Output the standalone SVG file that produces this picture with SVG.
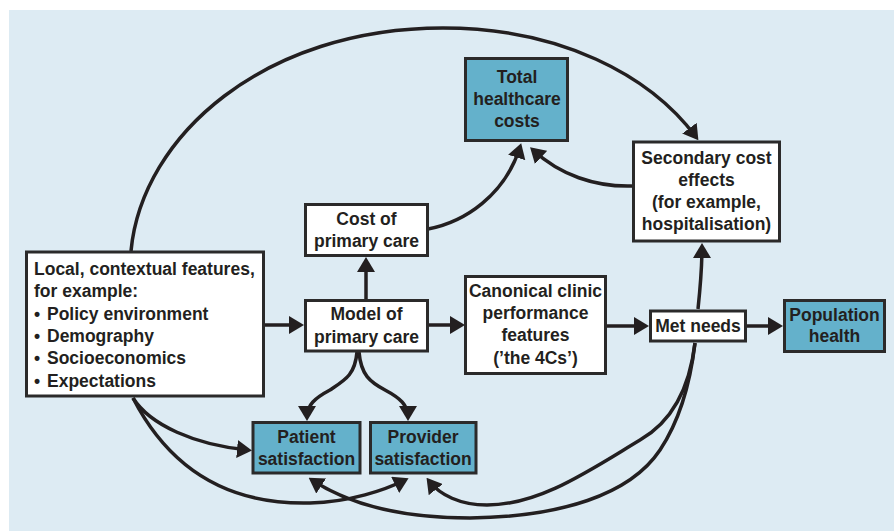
<svg xmlns="http://www.w3.org/2000/svg" width="894" height="531" viewBox="0 0 894 531">
<style>
.box{fill:#ffffff;stroke:#2b2a2a;stroke-width:3}
.hl{fill:#64b1cb;stroke:#2b2a2a;stroke-width:3}
text{font-family:"Liberation Sans",Arial,sans-serif;font-weight:bold;font-size:17.5px;fill:#231f20}
.c{text-anchor:middle}
.con path{fill:none;stroke:#231f20;stroke-width:3.5}
</style>
<defs>
<marker id="ah" markerUnits="userSpaceOnUse" markerWidth="15" markerHeight="18" viewBox="0 0 15 18" refX="11" refY="9" orient="auto">
<path d="M0,0 L15,9 L0,18 z" fill="#231f20"/>
</marker>
</defs>
<rect x="0" y="0" width="894" height="531" fill="#ffffff"/>
<rect x="9" y="10" width="885" height="521" fill="#ddebf3"/>

<g id="connectors" class="con">
<path d="M131,251 C142,135 265,28 443,28 C560,28 650,75 696,137" marker-end="url(#ah)"/>
<path d="M265,325 L300,325" marker-end="url(#ah)"/>
<path d="M428,325 L461,325" marker-end="url(#ah)"/>
<path d="M606,326 L645,326" marker-end="url(#ah)"/>
<path d="M747,326 L779,326" marker-end="url(#ah)"/>
<path d="M366,299 L366,261" marker-end="url(#ah)"/>
<path d="M428,229 C465,222 505,195 520,147" marker-end="url(#ah)"/>
<path d="M632,186 C595,187 560,175 533,150" marker-end="url(#ah)"/>
<path d="M698,309 C700,290 702,270 702,247" marker-end="url(#ah)"/>
<path d="M695,343 C690,385 675,420 640,440 C590,470 540,505 487,505 C460,505 440,495 429,481" marker-end="url(#ah)"/>
<path d="M695,343 C690,385 680,420 660,450 C630,495 560,517 470,518 C400,518 350,505 312,480" marker-end="url(#ah)"/>
<path d="M133,398 C150,425 195,445 248,450" marker-end="url(#ah)"/>
<path d="M133,398 C170,470 230,505 310,503 C350,502 385,490 405,480" marker-end="url(#ah)"/>
<path d="M357,352 C355,375 345,380 330,390 C315,398 307,405 307,417" marker-end="url(#ah)"/>
<path d="M359,352 C361,375 370,382 385,390 C400,398 408,405 408,417" marker-end="url(#ah)"/>
</g>

<g id="total">
<rect class="hl" x="465.5" y="58.5" width="102" height="82"/>
<text class="c" x="517" y="82.7">Total</text>
<text class="c" x="517" y="105">healthcare</text>
<text class="c" x="517" y="127.3">costs</text>
</g>
<g id="secondary">
<rect class="box" x="633.5" y="142" width="146" height="99"/>
<text class="c" x="706.5" y="163.5">Secondary cost</text>
<text class="c" x="706.5" y="185.8">effects</text>
<text class="c" x="706.5" y="208.1">(for example,</text>
<text class="c" x="706.5" y="230.4">hospitalisation)</text>
</g>
<g id="cost">
<rect class="box" x="305.5" y="204.5" width="122" height="51"/>
<text class="c" x="366.5" y="224.5">Cost of</text>
<text class="c" x="366.5" y="246.5">primary care</text>
</g>
<g id="local">
<rect class="box" x="26.5" y="252" width="237" height="144"/>
<text x="34" y="275">Local, contextual features,</text>
<text x="34" y="297.3">for example:</text>
<text y="319.6"><tspan x="34">•</tspan><tspan x="47">Policy environment</tspan></text>
<text y="341.9"><tspan x="34">•</tspan><tspan x="47">Demography</tspan></text>
<text y="364.2"><tspan x="34">•</tspan><tspan x="47">Socioeconomics</tspan></text>
<text y="386.5"><tspan x="34">•</tspan><tspan x="47">Expectations</tspan></text>
</g>
<g id="model">
<rect class="box" x="305.5" y="300.5" width="122" height="50.5"/>
<text class="c" x="366.5" y="320.3">Model of</text>
<text class="c" x="366.5" y="342.6">primary care</text>
</g>
<g id="canonical">
<rect class="box" x="465.5" y="276.5" width="140" height="97"/>
<text class="c" x="535.5" y="296.7">Canonical clinic</text>
<text class="c" x="535.5" y="319">performance</text>
<text class="c" x="535.5" y="341.3">features</text>
<text class="c" x="535.5" y="363.6">(’the 4Cs’)</text>
</g>
<g id="met">
<rect class="box" x="650.5" y="311" width="95" height="30"/>
<text class="c" x="698" y="331.7">Met needs</text>
</g>
<g id="population">
<rect class="hl" x="784.5" y="300.5" width="100" height="51"/>
<text class="c" x="834.5" y="320.5">Population</text>
<text class="c" x="834.5" y="342.3">health</text>
</g>
<g id="patient">
<rect class="hl" x="253" y="422.5" width="107" height="50.5"/>
<text class="c" x="306.5" y="443">Patient</text>
<text class="c" x="306.5" y="465">satisfaction</text>
</g>
<g id="provider">
<rect class="hl" x="370.5" y="422.5" width="105.5" height="50.5"/>
<text class="c" x="423" y="443">Provider</text>
<text class="c" x="423" y="465">satisfaction</text>
</g>
</svg>
